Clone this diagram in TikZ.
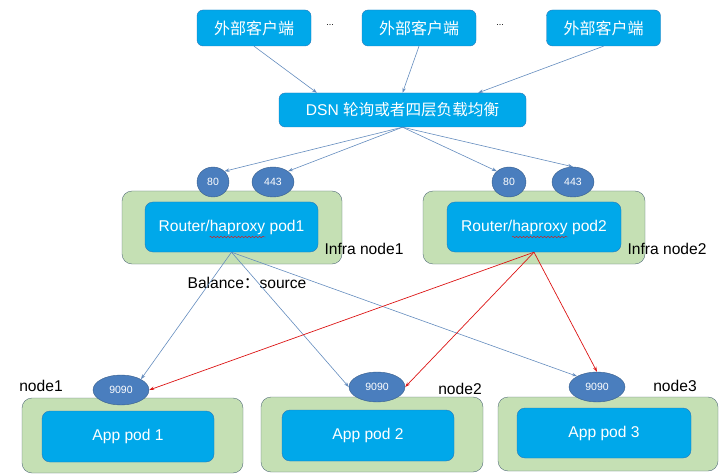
\documentclass[tikz,border=0pt]{standalone}
\usepackage{fontspec}
\setmainfont{Liberation Sans}
\newfontfamily\cjk{Noto Sans CJK SC}
\usetikzlibrary{calc,shapes.geometric,arrows.meta,decorations.pathmorphing}
\definecolor{boxblue}{RGB}{0,168,234}
\definecolor{boxline}{RGB}{40,120,185}
\definecolor{hostgreen}{RGB}{197,224,180}
\definecolor{hostline}{RGB}{84,110,122}
\definecolor{portblue}{RGB}{74,126,190}
\definecolor{portline}{RGB}{56,93,138}
\definecolor{linkblue}{RGB}{100,140,190}
\definecolor{linkred}{RGB}{220,20,20}
\tikzset{
	client/.style={draw=boxline, fill=boxblue, text=white, rounded corners=6pt, minimum width=114pt, minimum height=36pt, inner sep=0pt},
	host/.style={draw=hostline, fill=hostgreen, rounded corners=10pt, inner sep=0pt},
	pod/.style={draw=boxline, fill=boxblue, text=white, rounded corners=8pt, minimum width=173pt, minimum height=50pt, inner sep=0pt},
	port/.style={ellipse, draw=portline, fill=portblue, text=white, minimum height=30pt, inner sep=0pt, font=\fontsize{10.5}{12}\selectfont},
	label/.style={inner sep=0pt},
	squiggle/.style={draw=linkred, line width=0.4pt, decorate, decoration={snake, amplitude=0.8pt, segment length=3.5pt}},
	bluelink/.style={draw=linkblue, line width=0.6pt, -{Stealth[length=5pt,width=3.5pt]}},
	redlink/.style={draw=linkred, line width=0.7pt, -{Stealth[length=5pt,width=3.5pt]}},
}
\begin{document}
\begin{tikzpicture}[x=1pt, y=-1pt, every node/.style={font=\fontsize{15.6}{18}\selectfont}]
			%%%%% START %%%%%
			\useasboundingbox (0,0) rectangle (726,476);
			
			% clients
			\node[client] (client1) at (254, 28) {\cjk\fontsize{16}{18}\selectfont 外部客户端};
			\node[client] (client2) at (419, 28) {\cjk\fontsize{16}{18}\selectfont 外部客户端};
			\node[client] (client3) at (603.5, 28) {\cjk\fontsize{16}{18}\selectfont 外部客户端};
			\node[label, font=\fontsize{9}{10}\selectfont] (dots1) at (330, 25) {...};
			\node[label, font=\fontsize{9}{10}\selectfont] (dots2) at (500, 25) {...};
			
			% dns
			\node[client, minimum width=247pt, minimum height=34pt] (dsn) at (402.5, 110) {DSN {\cjk 轮询或者四层负载均衡}};
			
			% infra nodes
			\node[host, minimum width=220pt, minimum height=73pt] (infra1) at (232, 227.5) {};
			\node[host, minimum width=222pt, minimum height=73pt] (infra2) at (534, 227.5) {};
			\node[pod] (router1) at (231.5, 227) {Router/haproxy pod1};
			\node[pod, minimum width=174pt] (router2) at (534, 227) {Router/haproxy pod2};
			\draw[squiggle] ($(router1.center)+(-22,10)$) -- ($(router1.center)+(34,10)$);
			\draw[squiggle] ($(router2.center)+(-22,10)$) -- ($(router2.center)+(34,10)$);
			\node[label] (infralabel1) at (364, 249) {Infra node1};
			\node[label] (infralabel2) at (667, 249) {Infra node2};
			
			\node[port, minimum width=32pt] (http1) at (213, 182) {80};
			\node[port, minimum width=42pt] (https1) at (273, 182) {443};
			\node[port, minimum width=34pt] (http2) at (509, 182) {80};
			\node[port, minimum width=42pt] (https2) at (573, 182) {443};
			
			% app nodes
			\node[host, minimum width=221pt, minimum height=75pt] (app1) at (132.5, 435.5) {};
			\node[host, minimum width=222pt, minimum height=75pt] (app2) at (372, 434.5) {};
			\node[host, minimum width=220pt, minimum height=74pt] (app3) at (608, 434) {};
			\node[pod, minimum width=172pt, minimum height=51pt] (apppod1) at (128, 436.5) {App pod 1};
			\node[pod, minimum width=172pt, minimum height=51pt] (apppod2) at (368, 435.5) {App pod 2};
			\node[pod, minimum width=174pt, minimum height=50pt] (apppod3) at (604, 433) {App pod 3};
			
			\node[port, minimum width=56pt] (svc1) at (121, 390) {9090};
			\node[port, minimum width=56pt] (svc2) at (377, 387) {9090};
			\node[port, minimum width=56pt] (svc3) at (597, 387) {9090};
			
			\node[label] (hostlabel1) at (41, 386) {node1};
			\node[label] (hostlabel2) at (460, 389) {node2};
			\node[label] (hostlabel3) at (675, 386) {node3};
			\node[label] (balance) at (247, 283) {Balance{\cjk ：}source};
			
			% links
			\draw[bluelink] (client1.south) -- ($(dsn.north west)!0.154!(dsn.north east)$);
			\draw[bluelink] (client2.south) -- (dsn.north);
			\draw[bluelink] (client3.south) -- ($(dsn.north west)!0.806!(dsn.north east)$);
			
			\draw[bluelink] (dsn.south) -- (http1.north east);
			\draw[bluelink] (dsn.south) -- (https1.north east);
			\draw[bluelink] (dsn.south) -- (http2.north west);
			\draw[bluelink] (dsn.south) -- (https2.north);
			
			\draw[bluelink] (router1.south) -- (svc1.north east);
			\draw[bluelink] (router1.south) -- (svc2.west);
			\draw[bluelink] (router1.south) -- (svc3.north west);
			
			\draw[redlink] (router2.south) -- (svc1.east);
			\draw[redlink] (router2.south) -- (svc2.east);
			\draw[redlink] (router2.south) -- (svc3.north);
			
			%%%%% END %%%%%
\end{tikzpicture}
\end{document}
